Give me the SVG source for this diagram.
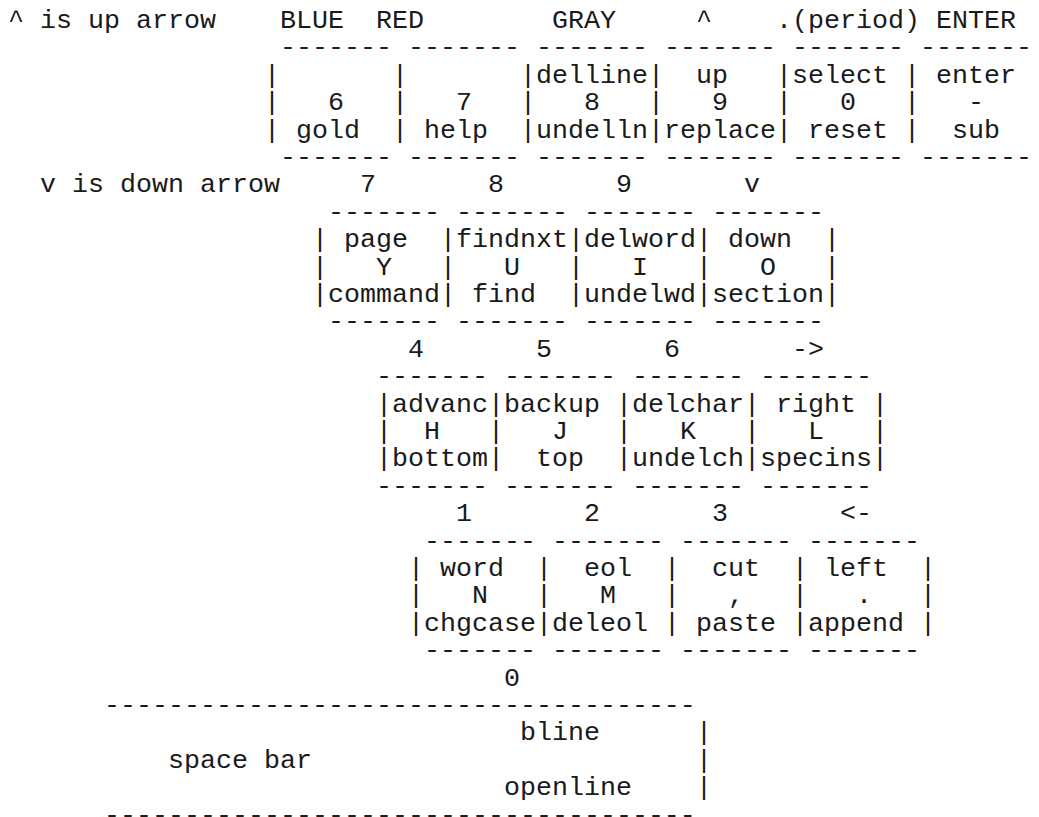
<svg xmlns="http://www.w3.org/2000/svg" xmlns:xlink="http://www.w3.org/1999/xlink" width="1039" height="817" viewBox="0 0 1039 817">
<style>
text { font-family: "Liberation Mono", "Courier New", monospace; font-size: 26.667px; fill: #1a1a1a; white-space: pre; }
</style>
<defs>
<text id="d7">-------</text>
<text id="b3"><tspan x="0" y="0">|</tspan><tspan x="0" y="27.4">|</tspan><tspan x="0" y="54.8">|</tspan></text>
</defs>
<rect width="1039" height="817" fill="#ffffff"/>
<g id="legend">
<text x="8" y="28">^ is up arrow</text>
<text x="40" y="192.4">v is down arrow</text>
</g>
<g id="key-gold">
<text x="280" y="28">BLUE</text>
<use href="#d7" x="280" y="55.4"/>
<use href="#b3" x="264" y="82.8"/>
<text x="328" y="110.2">6</text>
<text x="296" y="137.6">gold</text>
<use href="#d7" x="280" y="165"/>
</g>
<g id="key-help">
<text x="376" y="28">RED</text>
<use href="#d7" x="408" y="55.4"/>
<use href="#b3" x="392" y="82.8"/>
<text x="456" y="110.2">7</text>
<text x="424" y="137.6">help</text>
<use href="#d7" x="408" y="165"/>
</g>
<g id="key-delline">
<text x="552" y="28">GRAY</text>
<use href="#d7" x="536" y="55.4"/>
<use href="#b3" x="520" y="82.8"/>
<text x="536" y="82.8">delline</text>
<text x="584" y="110.2">8</text>
<text x="536" y="137.6">undelln</text>
<use href="#d7" x="536" y="165"/>
</g>
<g id="key-up">
<text x="696" y="28">^</text>
<use href="#d7" x="664" y="55.4"/>
<use href="#b3" x="648" y="82.8"/>
<text x="696" y="82.8">up</text>
<text x="712" y="110.2">9</text>
<text x="664" y="137.6">replace</text>
<use href="#d7" x="664" y="165"/>
</g>
<g id="key-select">
<text x="776" y="28">.(period)</text>
<use href="#d7" x="792" y="55.4"/>
<use href="#b3" x="776" y="82.8"/>
<text x="792" y="82.8">select</text>
<text x="840" y="110.2">0</text>
<text x="808" y="137.6">reset</text>
<use href="#d7" x="792" y="165"/>
</g>
<g id="key-enter">
<text x="936" y="28">ENTER</text>
<use href="#d7" x="920" y="55.4"/>
<use href="#b3" x="904" y="82.8"/>
<text x="936" y="82.8">enter</text>
<text x="968" y="110.2">-</text>
<text x="952" y="137.6">sub</text>
<use href="#d7" x="920" y="165"/>
</g>
<g id="key-page">
<text x="360" y="192.4">7</text>
<use href="#d7" x="328" y="219.8"/>
<use href="#b3" x="312" y="247.2"/>
<text x="344" y="247.2">page</text>
<text x="376" y="274.6">Y</text>
<text x="328" y="302">command</text>
<use href="#d7" x="328" y="329.4"/>
</g>
<g id="key-findnxt">
<text x="488" y="192.4">8</text>
<use href="#d7" x="456" y="219.8"/>
<use href="#b3" x="440" y="247.2"/>
<text x="456" y="247.2">findnxt</text>
<text x="504" y="274.6">U</text>
<text x="472" y="302">find</text>
<use href="#d7" x="456" y="329.4"/>
</g>
<g id="key-delword">
<text x="616" y="192.4">9</text>
<use href="#d7" x="584" y="219.8"/>
<use href="#b3" x="568" y="247.2"/>
<text x="584" y="247.2">delword</text>
<text x="632" y="274.6">I</text>
<text x="584" y="302">undelwd</text>
<use href="#d7" x="584" y="329.4"/>
</g>
<g id="key-down">
<text x="744" y="192.4">v</text>
<use href="#d7" x="712" y="219.8"/>
<use href="#b3" x="696" y="247.2"/>
<use href="#b3" x="824" y="247.2"/>
<text x="728" y="247.2">down</text>
<text x="760" y="274.6">O</text>
<text x="712" y="302">section</text>
<use href="#d7" x="712" y="329.4"/>
</g>
<g id="key-advanc">
<text x="408" y="356.8">4</text>
<use href="#d7" x="376" y="384.2"/>
<use href="#b3" x="376" y="411.6"/>
<text x="392" y="411.6">advanc</text>
<text x="424" y="439">H</text>
<text x="392" y="466.4">bottom</text>
<use href="#d7" x="376" y="493.8"/>
</g>
<g id="key-backup">
<text x="536" y="356.8">5</text>
<use href="#d7" x="504" y="384.2"/>
<use href="#b3" x="488" y="411.6"/>
<text x="504" y="411.6">backup</text>
<text x="552" y="439">J</text>
<text x="536" y="466.4">top</text>
<use href="#d7" x="504" y="493.8"/>
</g>
<g id="key-delchar">
<text x="664" y="356.8">6</text>
<use href="#d7" x="632" y="384.2"/>
<use href="#b3" x="616" y="411.6"/>
<text x="632" y="411.6">delchar</text>
<text x="680" y="439">K</text>
<text x="632" y="466.4">undelch</text>
<use href="#d7" x="632" y="493.8"/>
</g>
<g id="key-right">
<text x="792" y="356.8">-&gt;</text>
<use href="#d7" x="760" y="384.2"/>
<use href="#b3" x="744" y="411.6"/>
<use href="#b3" x="872" y="411.6"/>
<text x="776" y="411.6">right</text>
<text x="808" y="439">L</text>
<text x="760" y="466.4">specins</text>
<use href="#d7" x="760" y="493.8"/>
</g>
<g id="key-word">
<text x="456" y="521.2">1</text>
<use href="#d7" x="424" y="548.6"/>
<use href="#b3" x="408" y="576"/>
<text x="440" y="576">word</text>
<text x="472" y="603.4">N</text>
<text x="424" y="630.8">chgcase</text>
<use href="#d7" x="424" y="658.2"/>
</g>
<g id="key-eol">
<text x="584" y="521.2">2</text>
<use href="#d7" x="552" y="548.6"/>
<use href="#b3" x="536" y="576"/>
<text x="584" y="576">eol</text>
<text x="600" y="603.4">M</text>
<text x="552" y="630.8">deleol</text>
<use href="#d7" x="552" y="658.2"/>
</g>
<g id="key-cut">
<text x="712" y="521.2">3</text>
<use href="#d7" x="680" y="548.6"/>
<use href="#b3" x="664" y="576"/>
<text x="712" y="576">cut</text>
<text x="728" y="603.4">,</text>
<text x="696" y="630.8">paste</text>
<use href="#d7" x="680" y="658.2"/>
</g>
<g id="key-left">
<text x="840" y="521.2">&lt;-</text>
<use href="#d7" x="808" y="548.6"/>
<use href="#b3" x="792" y="576"/>
<use href="#b3" x="920" y="576"/>
<text x="824" y="576">left</text>
<text x="856" y="603.4">.</text>
<text x="808" y="630.8">append</text>
<use href="#d7" x="808" y="658.2"/>
</g>
<g id="key-spacebar">
<text x="504" y="685.6">0</text>
<text x="104" y="713">-------------------------------------</text>
<use href="#b3" x="696" y="740.4"/>
<text x="520" y="740.4">bline</text>
<text x="168" y="767.8">space bar</text>
<text x="504" y="795.2">openline</text>
<text x="104" y="822.6">-------------------------------------</text>
</g>
</svg>
